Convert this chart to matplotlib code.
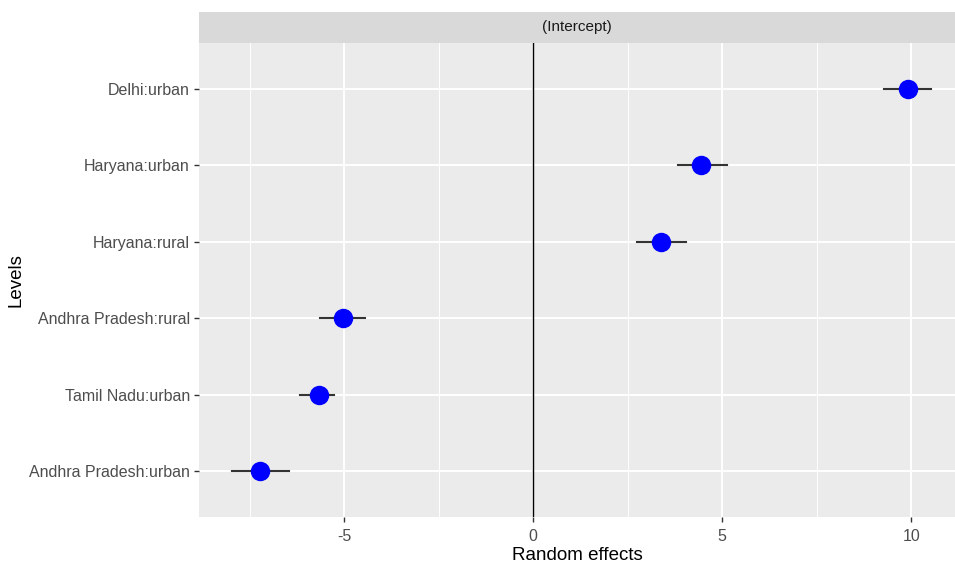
import matplotlib
matplotlib.use("Agg")
import matplotlib.pyplot as plt
from matplotlib.patches import Rectangle

plt.rcParams['font.family'] = ['Liberation Sans', 'DejaVu Sans']
plt.rcParams['axes.unicode_minus'] = False

# random effects (intercept) with interval bounds, bottom to top
levels = ["Andhra Pradesh:urban", "Tamil Nadu:urban", "Andhra Pradesh:rural",
          "Haryana:rural", "Haryana:urban", "Delhi:urban"]
estimate = [-7.22, -5.66, -5.03, 3.39, 4.44, 9.92]
lower = [-7.96, -6.16, -5.63, 2.75, 3.84, 9.29]
upper = [-6.46, -5.26, -4.44, 4.05, 5.13, 10.53]
x_ticks = [-5, 0, 5, 10]
x_minor = [-7.5, -2.5, 2.5, 7.5]

W, H = 955, 563
fig = plt.figure(figsize=(W / 100, H / 100), dpi=100)
left, right, top, bottom = 199, 955, 43, 517
ax = fig.add_axes([left / W, 1 - bottom / H, (right - left) / W, (bottom - top) / H])
ax.set_facecolor("#EBEBEB")
for s in ax.spines.values():
    s.set_visible(False)

ypos = list(range(1, len(levels) + 1))
ax.set_xlim(-8.84, 11.16)
ax.set_ylim(0.4, len(levels) + 0.6)

# grid
ax.set_xticks(x_ticks)
ax.set_xticks(x_minor, minor=True)
ax.set_yticks(ypos)
ax.set_yticklabels(levels)
ax.grid(True, which="major", color="white", linewidth=1.4)
ax.grid(True, which="minor", axis="x", color="white", linewidth=0.7)
ax.set_axisbelow(True)

ax.axvline(0, color="black", linewidth=1.0, zorder=2)

for y, lo, hi in zip(ypos, lower, upper):
    ax.plot([lo, hi], [y, y], color="#333333", linewidth=1.5, zorder=3)
ax.plot(estimate, ypos, "o", color="blue", markersize=13, zorder=4, linestyle="none")

ax.tick_params(axis="both", which="major", length=3.5, width=1, color="#333333",
               labelsize=11.5, labelcolor="#4D4D4D", pad=3)
ax.tick_params(axis="x", which="major", pad=5)
ax.tick_params(axis="x", which="minor", length=0)

ax.set_xlabel("Random effects", fontsize=13.5, color="black", labelpad=2)
ax.set_ylabel("Levels", fontsize=13.5, color="black", labelpad=3)

# facet strip
strip_top = 12
sax = fig.add_axes([left / W, 1 - top / H, (right - left) / W, (top - strip_top) / H])
sax.set_axis_off()
sax.add_patch(Rectangle((0, 0), 1, 1, transform=sax.transAxes, color="#D9D9D9"))
sax.text(0.5, 0.5, "(Intercept)", ha="center", va="center", fontsize=11,
         color="#1A1A1A", transform=sax.transAxes)

fig.savefig("out.png", dpi=100)
